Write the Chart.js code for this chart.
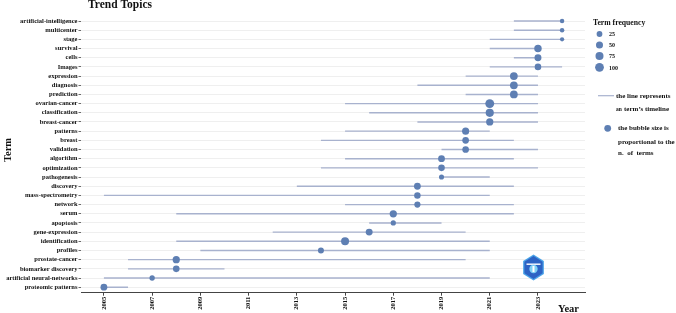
<!DOCTYPE html>
<html>
<head>
<meta charset="utf-8">
<script src="https://cdn.jsdelivr.net/npm/chart.js@4.4.1/dist/chart.umd.min.js"></script>
<style>
  html, body { margin: 0; padding: 0; background: #fff; }
  #wrap { width: 676px; height: 313px; position: relative; }
</style>
</head>
<body>
<div id="wrap"><canvas id="trendChart" width="676" height="313"></canvas></div>
<script>
// terms, top to bottom
const terms = [
  'artificial-intelligence', 'multicenter', 'stage', 'survival', 'cells', 'Images',
  'expression', 'diagnosis', 'prediction', 'ovarian-cancer', 'classification', 'breast-cancer',
  'patterns', 'breast', 'validation', 'algorithm', 'optimization', 'pathogenesis',
  'discovery', 'mass-spectrometry', 'network', 'serum', 'apoptosis', 'gene-expression',
  'identification', 'profiles', 'prostate-cancer', 'biomarker discovery',
  'artificial neural-networks', 'proteomic patterns'
];

// timeline of each term (first quartile year, median year, third quartile year)
const startYear  = [2022, 2022, 2021, 2021, 2022, 2021, 2020, 2018, 2020, 2015, 2016, 2018,
                    2015, 2014, 2019, 2015, 2014, 2019, 2013, 2005, 2015, 2008, 2016, 2012,
                    2008, 2009, 2006, 2006, 2005, 2005];
const medianYear = [2024, 2024, 2024, 2023, 2023, 2023, 2022, 2022, 2022, 2021, 2021, 2021,
                    2020, 2020, 2020, 2019, 2019, 2019, 2018, 2018, 2018, 2017, 2017, 2016,
                    2015, 2014, 2008, 2008, 2007, 2005];
const endYear    = [2024, 2024, 2024, 2023, 2023, 2024, 2023, 2023, 2023, 2023, 2023, 2023,
                    2021, 2022, 2023, 2022, 2023, 2021, 2022, 2021, 2022, 2022, 2019, 2020,
                    2021, 2021, 2020, 2010, 2021, 2006];

// term frequency (bubble size)
const termFreq   = [8, 8, 6, 60, 48, 40, 68, 68, 68, 105, 80, 55,
                    52, 42, 42, 45, 40, 15, 45, 38, 32, 55, 16, 48,
                    75, 28, 55, 40, 18, 45];

const yearTicks = [2005, 2007, 2009, 2011, 2013, 2015, 2017, 2019, 2021, 2023];
const legendFreq = [25, 50, 75, 100];

const lineColor = 'rgb(168,178,206)';
const bubbleColor = 'rgb(94,127,179)';
const serif = "'Liberation Serif', 'DejaVu Serif', serif";

function bubbleRadius(f) {
    return 1.4 + 3 * Math.sqrt(f / 100);
}

// one little line per term
const lineSets = terms.map((t, i) => ({
    type: 'line',
    label: t,
    data: [{ x: startYear[i], y: i + 1 }, { x: endYear[i], y: i + 1 }],
    borderColor: lineColor,
    borderWidth: 1.4,
    pointRadius: 0,
    fill: false,
    order: 1
}));

const bubbleSet = {
    type: 'bubble',
    label: 'Term frequency',
    data: terms.map((t, i) => ({ x: medianYear[i], y: i + 1, r: bubbleRadius(termFreq[i]) })),
    backgroundColor: bubbleColor,
    borderColor: bubbleColor,
    borderWidth: 0,
    order: 0
};

// texts, legend and the little logo
const decorPlugin = {
    id: 'decor',
    afterDraw(chart) {
        const ctx = chart.ctx;
        ctx.save();
        ctx.fillStyle = '#111';
        ctx.textBaseline = 'alphabetic';

        // title
        ctx.font = `bold 11.5px ${serif}`;
        ctx.fillText('Trend Topics', 88, 7.5);

        // axis titles
        ctx.font = `bold 10.5px ${serif}`;
        ctx.fillText('Year', 558, 312);
        ctx.save();
        ctx.translate(11, 150);
        ctx.rotate(-Math.PI / 2);
        ctx.textAlign = 'center';
        ctx.fillText('Term', 0, 0);
        ctx.restore();

        // size legend
        ctx.font = `bold 7.7px ${serif}`;
        ctx.fillText('Term frequency', 593, 25);
        const ly = [34, 45, 56, 67.3];
        legendFreq.forEach((f, k) => {
            ctx.beginPath();
            ctx.fillStyle = bubbleColor;
            ctx.arc(599.5, ly[k], bubbleRadius(f), 0, Math.PI * 2);
            ctx.fill();
            ctx.fillStyle = '#111';
            ctx.font = `bold 6px ${serif}`;
            ctx.fillText(String(f), 609, ly[k] + 2.2);
        });

        // explanation legend
        ctx.strokeStyle = lineColor;
        ctx.lineWidth = 1.2;
        ctx.beginPath();
        ctx.moveTo(598, 95.7);
        ctx.lineTo(614, 95.7);
        ctx.stroke();
        ctx.fillStyle = '#111';
        ctx.font = `bold 7px ${serif}`;
        ctx.fillText('the line represents', 616, 98.3);
        ctx.font = `bold 5.5px ${serif}`;
        ctx.fillText('an', 616, 111);
        ctx.font = `bold 7px ${serif}`;
        ctx.fillText("term\u2019s timeline", 624, 111);

        ctx.beginPath();
        ctx.fillStyle = bubbleColor;
        ctx.arc(607.7, 128.3, 3.4, 0, Math.PI * 2);
        ctx.fill();
        ctx.fillStyle = '#111';
        ctx.fillText('the bubble size is', 618, 130);
        ctx.fillText('proportional to the', 618, 143.5);
        ctx.fillText('n.  of  terms', 618, 155.2);

        // hexagon logo
        const cx = 533.5, cy = 267.5, R = 13;
        const hex = (rad) => {
            ctx.beginPath();
            for (let k = 0; k < 6; k++) {
                const a = Math.PI / 2 + k * Math.PI / 3;
                const px = cx + rad * Math.cos(a) * 0.92;
                const py = cy - rad * Math.sin(a);
                if (k === 0) ctx.moveTo(px, py); else ctx.lineTo(px, py);
            }
            ctx.closePath();
        };
        hex(R);
        ctx.fillStyle = '#4aa3e8';
        ctx.fill();
        hex(R - 1.6);
        ctx.fillStyle = '#2d63c4';
        ctx.fill();
        ctx.fillStyle = '#ffffff';
        ctx.fillRect(cx - 7, cy - 4, 14, 1.4);
        ctx.beginPath();
        ctx.arc(cx, cy + 1.5, 4.2, 0, Math.PI * 2);
        ctx.fillStyle = '#7fd0f5';
        ctx.fill();
        ctx.fillStyle = '#ffffff';
        ctx.fillRect(cx - 1, cy - 1.5, 2, 6);
        ctx.restore();
    }
};

const chart = new Chart(document.getElementById('trendChart').getContext('2d'), {
    type: 'bubble',
    data: { datasets: [bubbleSet, ...lineSets] },
    options: {
        responsive: false,
        animation: false,
        devicePixelRatio: 1,
        layout: { padding: { left: 0, right: 91, top: 15.5, bottom: 0 } },
        plugins: {
            legend: { display: false },
            tooltip: { enabled: false },
            title: { display: false }
        },
        scales: {
            x: {
                type: 'linear',
                min: 2004.05,
                max: 2024.95,
                afterBuildTicks: (scale) => { scale.ticks = yearTicks.map(v => ({ value: v })); },
                afterFit: (scale) => { scale.height = 20.3; },
                grid: { drawOnChartArea: false, drawTicks: true, tickLength: 3, tickColor: '#444' },
                border: { display: true, color: '#444', width: 1 },
                ticks: {
                    autoSkip: false,
                    maxRotation: 90,
                    minRotation: 90,
                    padding: 1,
                    color: '#111',
                    font: { family: serif, size: 6.5, weight: 'bold' },
                    callback: (v) => String(v)
                }
            },
            y: {
                type: 'linear',
                min: 0.4,
                max: 30.6,
                reverse: true,
                afterBuildTicks: (scale) => { scale.ticks = terms.map((t, i) => ({ value: i + 1 })); },
                afterFit: (scale) => { scale.width = 81; },
                grid: { color: '#ebebeb', lineWidth: 0.8, drawTicks: true, tickLength: 2.5, tickColor: '#444' },
                border: { display: false },
                ticks: {
                    autoSkip: false,
                    padding: 1,
                    color: '#111',
                    font: { family: serif, size: 6.5, weight: 'bold' },
                    callback: (v) => terms[Math.round(v) - 1]
                }
            }
        }
    },
    plugins: [decorPlugin]
});
</script>
</body>
</html>
